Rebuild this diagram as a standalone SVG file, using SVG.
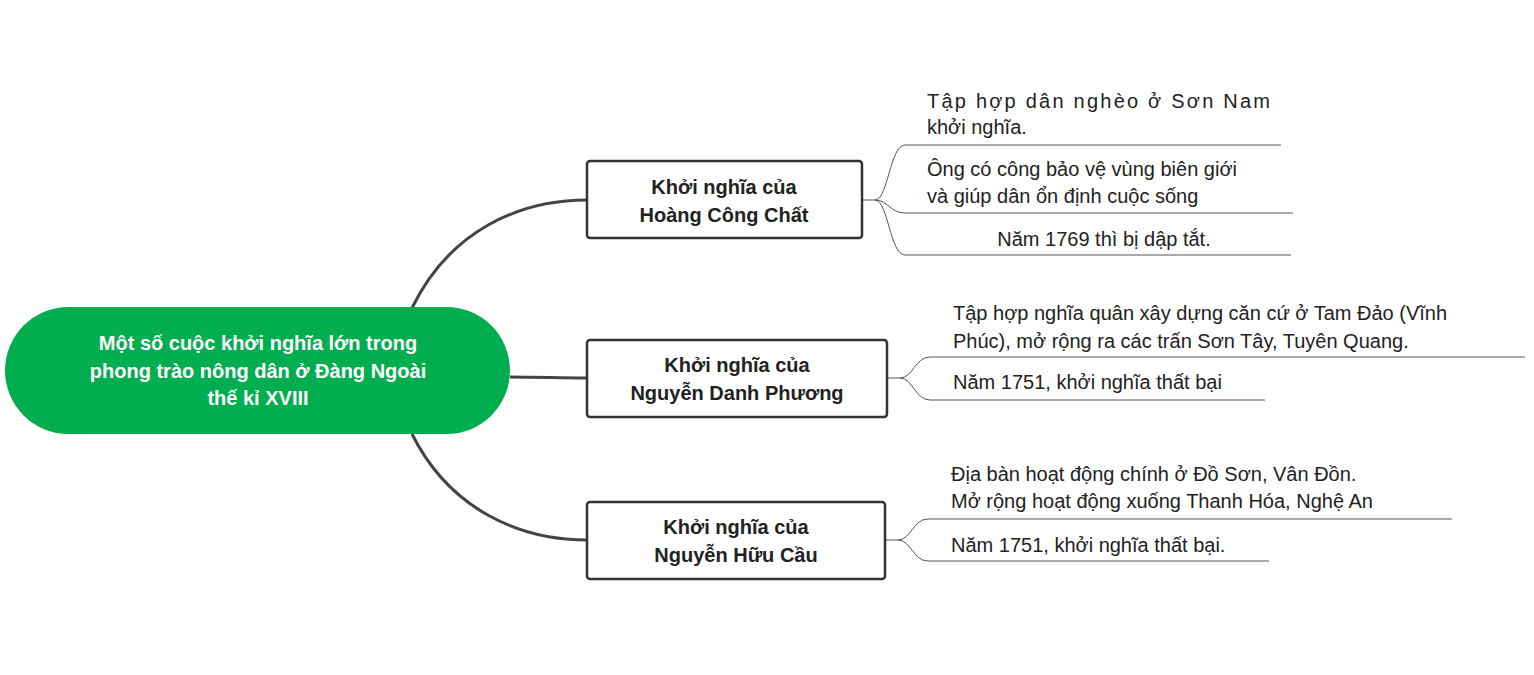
<svg xmlns="http://www.w3.org/2000/svg" width="1534" height="675" viewBox="0 0 1534 675">
<style>
text{font-family:"Liberation Sans",Arial,sans-serif;font-size:20px;fill:#222}
.root{fill:#fff;font-weight:bold;text-anchor:middle}
.bt{font-weight:bold;text-anchor:middle;fill:#222}
.box{fill:#fff;stroke:#333;stroke-width:2.5}
.main{fill:none;stroke:#444;stroke-width:3}
.leaf{fill:none;stroke:#555;stroke-width:1}
</style>
<rect width="1534" height="675" fill="#fff"/>
<g id="connectors">
<path class="main" d="M412,308 C450,230 520,200 587,200"/>
<path class="main" d="M510,377 C540,377 560,378 587,378"/>
<path class="main" d="M412,434 C450,510 520,540 587,540"/>
<path class="leaf" d="M862,200 H875 C888,200 890,145 905,145 H1281"/>
<path class="leaf" d="M875,200 C888,200 890,213 905,213 H1293"/>
<path class="leaf" d="M875,200 C888,200 890,255 905,255 H1291"/>
<path class="leaf" d="M887,378 H900 C913,378 915,357 930,357 H1525"/>
<path class="leaf" d="M900,378 C913,378 915,400 930,400 H1265"/>
<path class="leaf" d="M885,540 H898 C911,540 913,519 928,519 H1452"/>
<path class="leaf" d="M898,540 C911,540 913,561 928,561 H1269"/>
</g>
<g id="root">
<rect x="5" y="307" width="505" height="127" rx="63.5" fill="#00AE4F"/>
<text class="root" x="258" y="350">Một số cuộc khởi nghĩa lớn trong</text>
<text class="root" x="258" y="378">phong trào nông dân ở Đàng Ngoài</text>
<text class="root" x="258" y="405">thế kỉ XVIII</text>
</g>
<g id="n1">
<rect class="box" x="587" y="161" width="275" height="77" rx="3"/>
<text class="bt" x="724" y="194">Khởi nghĩa của</text>
<text class="bt" x="724" y="222">Hoàng Công Chất</text>
</g>
<g id="n2">
<rect class="box" x="587" y="340" width="300" height="77" rx="3"/>
<text class="bt" x="737" y="372">Khởi nghĩa của</text>
<text class="bt" x="737" y="400">Nguyễn Danh Phương</text>
</g>
<g id="n3">
<rect class="box" x="587" y="502" width="298" height="77" rx="3"/>
<text class="bt" x="736" y="534">Khởi nghĩa của</text>
<text class="bt" x="736" y="562">Nguyễn Hữu Cầu</text>
</g>
<g id="l1"><text x="927" y="108" textLength="343" lengthAdjust="spacing">Tập hợp dân nghèo ở Sơn Nam</text><text x="927" y="134">khởi nghĩa.</text></g>
<g id="l2"><text x="927" y="176">Ông có công bảo vệ vùng biên giới</text><text x="927" y="203">và giúp dân ổn định cuộc sống</text></g>
<g id="l3"><text x="1104" y="246" text-anchor="middle">Năm 1769 thì bị dập tắt.</text></g>
<g id="l4"><text x="953" y="320">Tập hợp nghĩa quân xây dựng căn cứ ở Tam Đảo (Vĩnh</text><text x="953" y="348">Phúc), mở rộng ra các trấn Sơn Tây, Tuyên Quang.</text></g>
<g id="l5"><text x="953" y="389">Năm 1751, khởi nghĩa thất bại</text></g>
<g id="l6"><text x="951" y="481">Địa bàn hoạt động chính ở Đồ Sơn, Vân Đồn.</text><text x="951" y="508">Mở rộng hoạt động xuống Thanh Hóa, Nghệ An</text></g>
<g id="l7"><text x="951" y="552">Năm 1751, khởi nghĩa thất bại.</text></g>
</svg>
